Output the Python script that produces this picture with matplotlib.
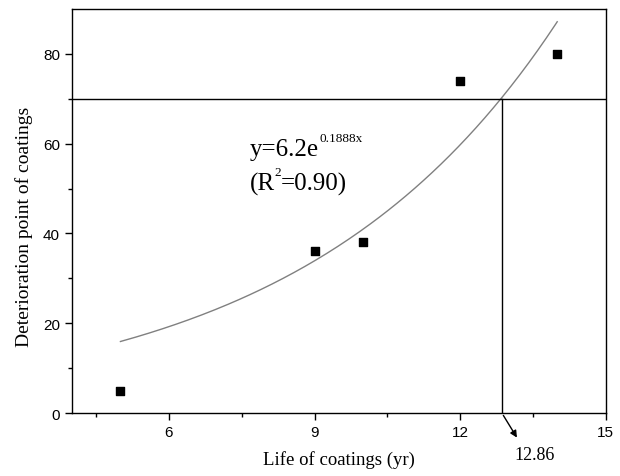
import numpy as np
import matplotlib
matplotlib.use("Agg")
import matplotlib.pyplot as plt

# data
life_years = [5, 9, 10, 12, 14]
deterioration = [5, 36, 38, 74, 80]
fit_a = 6.2
fit_b = 0.1888
fit_x_range = (5, 14)
threshold = 70
life_at_threshold = 12.86
x_ticks = [6, 9, 12, 15]
y_ticks = [0, 20, 40, 60, 80]

serif = ["Liberation Serif", "DejaVu Serif"]
sans = ["Liberation Sans", "DejaVu Sans"]

fig = plt.figure(figsize=(6.2, 4.77), dpi=100)
ax = fig.add_axes([0.116, 0.132, 0.861, 0.847])

ax.scatter(life_years, deterioration, marker="s", s=36, color="black", zorder=3)

xs = np.linspace(fit_x_range[0], fit_x_range[1], 200)
ax.plot(xs, fit_a * np.exp(fit_b * xs), color="#808080", lw=1.0)

ax.axhline(threshold, color="black", lw=1.0)
ax.plot([life_at_threshold, life_at_threshold], [0, threshold], color="black", lw=1.0)

ax.set_xlim(4, 15)
ax.set_ylim(0, 90)
ax.set_xticks(x_ticks)
ax.set_yticks(y_ticks)
ax.set_xticks([4.5, 7.5, 10.5, 13.5], minor=True)
ax.set_yticks([10, 30, 50, 70], minor=True)
ax.tick_params(which="both", direction="out", top=False, right=False, width=1.0)
ax.tick_params(which="major", length=5, labelsize=11)
ax.tick_params(which="minor", length=3)
for lab in ax.get_xticklabels() + ax.get_yticklabels():
    lab.set_family(sans)
for sp in ax.spines.values():
    sp.set_linewidth(1.0)

ax.set_xlabel("Life of coatings (yr)", family=serif, fontsize=13.5, labelpad=8)
ax.set_ylabel("Deterioration point of coatings", family=serif, fontsize=14)
ax.yaxis.set_label_coords(-0.073, 0.463)

# equation text with manual superscripts
t1 = ax.text(7.67, 57.5, "y=6.2e", family=serif, fontsize=18, ha="left", va="baseline")
ax.annotate("0.1888x", xy=(1, 0), xycoords=t1, xytext=(0.3, 13.5), textcoords="offset points",
            family=serif, fontsize=9.5, ha="left", va="baseline")
t2 = ax.text(7.67, 49.7, "(R", family=serif, fontsize=18, ha="left", va="baseline")
t3 = ax.annotate("2", xy=(1, 0), xycoords=t2, xytext=(-0.8, 14.5), textcoords="offset points",
                 family=serif, fontsize=9.5, ha="left", va="baseline")
ax.annotate("=0.90)", xy=(1, 0), xycoords=(t3, t2), xytext=(0, 0), textcoords="offset points",
            family=serif, fontsize=18, ha="left", va="bottom")

ax.annotate("", xy=(13.2, -6.0), xytext=(life_at_threshold, 0),
            arrowprops=dict(arrowstyle="-|>", color="black", lw=1.0, mutation_scale=10),
            annotation_clip=False)
ax.text(13.53, -9.2, "12.86", family=serif, fontsize=13, ha="center", va="center", clip_on=False)

fig.savefig("out.png", dpi=100)
